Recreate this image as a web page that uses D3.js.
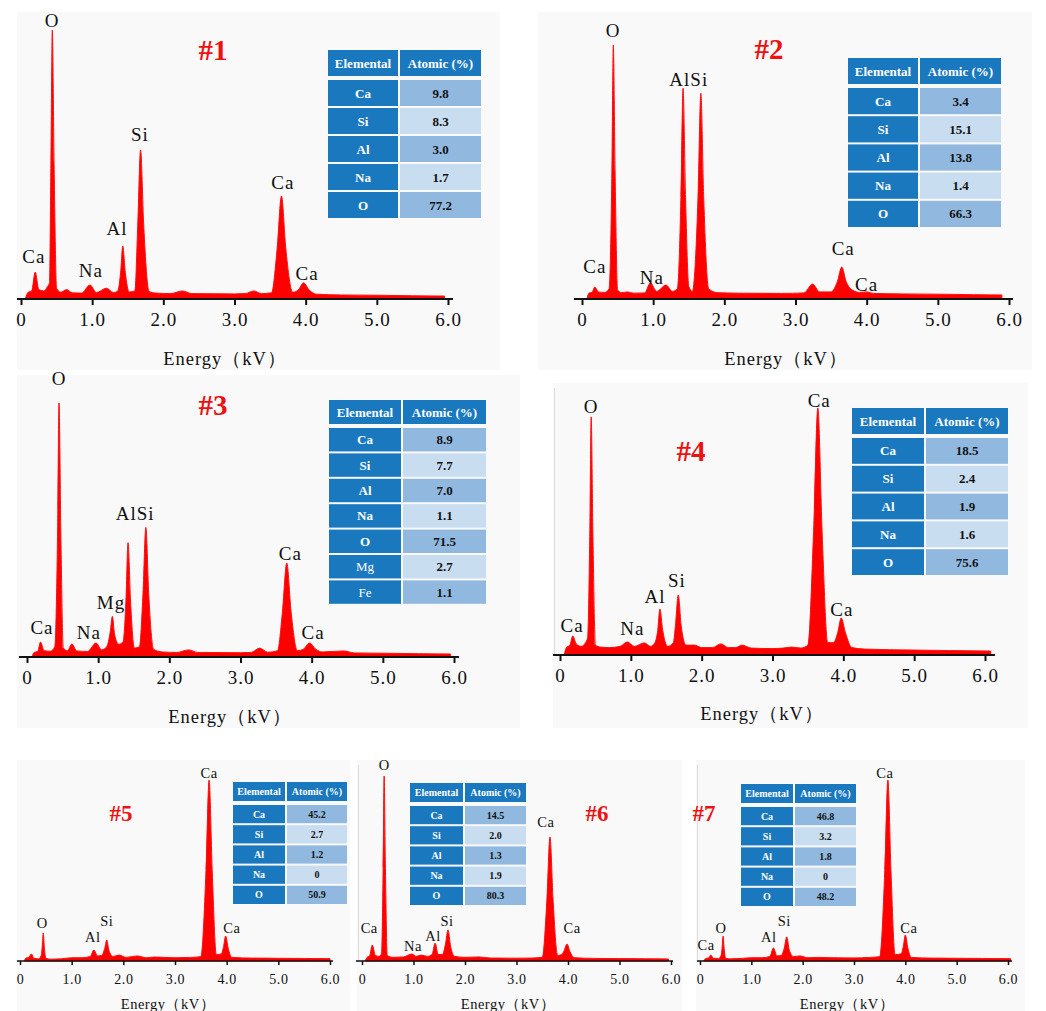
<!DOCTYPE html>
<html>
<head>
<meta charset="utf-8">
<script src="https://cdn.jsdelivr.net/npm/d3@7"></script>
<style>
body { margin: 0; background: #fff; }
svg { display: block; }
</style>
</head>
<body>
<div class="chart"></div>
<script>
// tick values shared by every spectrum (kV)
const kvTicks = [0, 1, 2, 3, 4, 5, 6];

// EDS spectra: [energy kV, counts, tallest peak = 100]
const spectrum1 = [[0.06,0],[0.1,2.5],[0.15,3],[0.2,10],[0.25,3.5],[0.32,3],[0.37,4.5],[0.4,6],[0.42,50],[0.44,100],[0.465,50],[0.5,4],[0.56,2.5],[0.64,3.5],[0.72,2.3],[0.85,2.2],[0.97,5.2],[1.06,2.4],[1.2,4],[1.3,2.4],[1.36,3],[1.4,10],[1.43,19.7],[1.465,10],[1.52,2.6],[1.6,3],[1.64,27],[1.68,55.4],[1.725,27],[1.8,2.8],[1.9,2.2],[2.1,2],[2.27,3],[2.4,2],[3.0,1.9],[3.15,2],[3.27,3],[3.38,2],[3.52,2.3],[3.6,19],[3.66,38.3],[3.72,19],[3.82,2.5],[3.9,3.5],[3.97,6],[4.05,3.3],[4.15,1.8],[4.5,1.5],[5.0,1.4],[5.5,1.2],[5.95,1.1]];
const spectrum2 = [[0.07,0],[0.1,2.4],[0.14,2.6],[0.18,4.7],[0.23,2.8],[0.32,2.6],[0.38,4],[0.42,50],[0.44,100],[0.465,50],[0.5,3.5],[0.56,2.5],[0.64,2.8],[0.72,2.3],[0.88,2.4],[0.96,6.3],[1.05,3],[1.18,5.5],[1.27,3],[1.34,4],[1.39,40],[1.42,83],[1.455,40],[1.5,5],[1.55,3],[1.63,40],[1.67,81],[1.71,40],[1.78,4],[1.9,2.5],[2.2,2.3],[2.8,2.2],[3.12,2.4],[3.24,5.9],[3.34,2.8],[3.5,2.8],[3.59,7],[3.65,12.6],[3.71,7],[3.8,3.5],[3.9,2.6],[4.0,2.8],[4.1,2.2],[4.5,2],[5.0,1.9],[5.5,1.7],[5.9,1.6]];
const spectrum3 = [[0.07,0],[0.1,1.8],[0.15,2.2],[0.19,5.9],[0.24,2.5],[0.33,2.3],[0.39,4],[0.43,50],[0.45,100],[0.475,50],[0.51,3.5],[0.57,2.5],[0.63,5.1],[0.7,2.4],[0.85,2.2],[0.97,5.5],[1.05,2.8],[1.12,4],[1.17,10],[1.2,16],[1.23,9],[1.29,5],[1.35,6],[1.39,22],[1.42,45],[1.455,22],[1.51,3.5],[1.58,4],[1.63,25],[1.67,51],[1.71,25],[1.78,3],[1.9,2],[2.1,1.8],[2.27,2.8],[2.4,1.8],[3.0,1.7],[3.15,1.8],[3.27,3.5],[3.38,1.9],[3.52,2.5],[3.59,18],[3.65,37],[3.71,18],[3.8,2.5],[3.88,3],[3.97,5.5],[4.06,3],[4.15,2],[4.45,2.4],[4.6,1.6],[5.0,1.5],[5.5,1.3],[5.95,1.2]];
const spectrum4 = [[0.06,0],[0.09,3],[0.14,4],[0.18,7.7],[0.23,4.5],[0.3,3.5],[0.36,5],[0.39,7],[0.42,48],[0.44,96.4],[0.465,48],[0.5,4],[0.57,3.2],[0.7,3],[0.85,3.5],[0.95,5.3],[1.05,3.5],[1.19,4.9],[1.28,3.5],[1.34,5],[1.38,10],[1.41,18.6],[1.45,10],[1.52,3.5],[1.6,5],[1.63,12],[1.67,24.3],[1.71,12],[1.78,4],[1.9,4],[2.0,3],[2.15,3],[2.27,4.5],[2.38,3],[2.48,3],[2.57,4],[2.7,2.8],[3.0,2.6],[3.15,2.8],[3.27,3.2],[3.4,2.8],[3.5,4],[3.58,50],[3.64,100],[3.7,50],[3.78,5],[3.86,5],[3.92,9],[3.97,15],[4.03,9],[4.12,3],[4.3,2.4],[5.0,2],[5.5,1.8],[6.08,1.6]];
const spectrum5 = [[0.08,0],[0.12,1.7],[0.17,2],[0.22,3.9],[0.27,1.5],[0.36,1.2],[0.41,3],[0.43,8],[0.45,15.5],[0.47,8],[0.5,1.5],[0.6,1],[0.8,1.2],[1.0,1.8],[1.2,1.8],[1.36,2.5],[1.43,6.1],[1.5,2.8],[1.58,3],[1.64,7],[1.68,11.6],[1.72,6],[1.8,2.5],[1.92,3.3],[2.05,2],[2.27,2.8],[2.45,1.8],[2.6,2.2],[3.0,1.8],[3.3,2],[3.5,2.4],[3.6,50],[3.66,100],[3.72,50],[3.8,3.5],[3.9,4],[3.94,8],[3.98,13.8],[4.03,7],[4.1,2],[4.5,1.6],[5.0,1.5],[5.5,1.4],[6.0,1.3]];
const spectrum6 = [[0.06,0],[0.1,2],[0.15,3],[0.2,8.6],[0.26,3],[0.33,2.5],[0.38,4],[0.41,50],[0.43,100],[0.455,50],[0.49,3],[0.6,2],[0.8,2.2],[0.97,3.8],[1.05,2.5],[1.15,3.2],[1.27,2.5],[1.36,3.5],[1.42,9.7],[1.48,3.5],[1.56,3.5],[1.62,9],[1.67,16.8],[1.72,8],[1.8,2.5],[2.0,2],[2.27,2.2],[2.5,1.6],[3.0,1.5],[3.3,1.6],[3.5,2],[3.59,33],[3.65,67],[3.71,33],[3.8,3],[3.88,3.5],[3.93,6],[3.98,9.2],[4.04,5],[4.12,1.8],[4.5,1.4],[5.0,1.3],[5.5,1.2],[5.95,1.1]];
const spectrum7 = [[0.07,0],[0.12,1.5],[0.17,1.7],[0.21,3.3],[0.26,1.5],[0.36,1.3],[0.41,3],[0.43,7],[0.45,13.8],[0.47,7],[0.5,1.5],[0.6,1.2],[0.8,1.4],[1.0,1.8],[1.2,1.8],[1.36,2.5],[1.43,7.2],[1.5,2.8],[1.58,3],[1.64,7],[1.69,13.3],[1.74,6],[1.82,2.5],[1.95,2.8],[2.1,1.8],[2.3,2],[2.6,1.8],[3.0,1.7],[3.3,2],[3.5,2.4],[3.6,50],[3.66,100],[3.72,50],[3.8,3.5],[3.92,4],[3.96,8],[4.0,14.4],[4.05,7],[4.12,2],[4.5,1.6],[5.0,1.5],[5.5,1.4],[6.05,1.3]];

// peak annotations: [element, energy kV, label level in counts]
const peaks1 = [["O",0.436,103.7],["Si",1.67,61.3],["Al",1.35,26.4],["Ca",3.68,43.5],["Ca",4.02,9.7],["Na",0.98,10.8],["Ca",0.18,16]];
const peaks2 = [["O",0.436,105.9],["AlSi",1.5,86.6],["Ca",3.67,20.1],["Ca",4.0,5.9],["Na",0.98,8.7],["Ca",0.18,13]];
const peaks3 = [["O",0.45,109.8],["AlSi",1.52,56.7],["Mg",1.18,21.7],["Na",0.87,9.8],["Ca",0.21,11.8],["Ca",3.7,40.9],["Ca",4.02,9.8]];
const peaks4 = [["O",0.44,100.8],["Ca",3.66,103.2],["Si",1.65,30.4],["Al",1.34,23.9],["Ca",3.98,18.6],["Na",1.02,10.9],["Ca",0.17,12.1]];
const peaks5 = [["Ca",3.66,103.9],["Ca",4.1,18.2],["Si",1.68,22.1],["Al",1.41,13.3],["O",0.43,21]];
const peaks6 = [["O",0.43,105.9],["Ca",3.57,75.1],["Ca",4.08,17.8],["Si",1.65,21.6],["Al",1.38,13.5],["Na",0.99,8.1],["Ca",0.14,17.8]];
const peaks7 = [["Ca",3.6,103.9],["Ca",4.07,18.2],["Si",1.64,22.1],["Al",1.34,13.3],["O",0.41,18.2],["Ca",0.12,8.8]];

// composition tables
const elements1 = ["Ca","Si","Al","Na","O"];
const atomic1 = [9.8, 8.3, 3.0, 1.7, 77.2];
const elements2 = ["Ca","Si","Al","Na","O"];
const atomic2 = [3.4, 15.1, 13.8, 1.4, 66.3];
const elements3 = ["Ca","Si","Al","Na","O","Mg","Fe"];
const atomic3 = [8.9, 7.7, 7.0, 1.1, 71.5, 2.7, 1.1];
const elements4 = ["Ca","Si","Al","Na","O"];
const atomic4 = [18.5, 2.4, 1.9, 1.6, 75.6];
const elements5 = ["Ca","Si","Al","Na","O"];
const atomic5 = [45.2, 2.7, 1.2, 0, 50.9];
const elements6 = ["Ca","Si","Al","Na","O"];
const atomic6 = [14.5, 2.0, 1.3, 1.9, 80.3];
const elements7 = ["Ca","Si","Al","Na","O"];
const atomic7 = [46.8, 3.2, 1.8, 0, 48.2];

const blue = "#1a78bf", cellDark = "#91b9df", cellLight = "#c9ddf0";
const serif = "'Liberation Serif', 'Times New Roman', serif";

// where each panel sits on the page
const panels = [
  {name:"#1", spec:spectrum1, peaks:peaks1, els:elements1, vals:atomic1, big:true, edge:false,
   bg:[17,12,483,358], x0:21, x1:448, axisY:299, topY:30, line:[17,453], num:[213,60], title:[225,365],
   table:{x:328, y:50, w:153, c1:71, hh:28, rh:28}},
  {name:"#2", spec:spectrum2, peaks:peaks2, els:elements2, vals:atomic2, big:true, edge:false,
   bg:[538,12,494,358], x0:582, x1:1009, axisY:299, topY:45, line:[574,1013], num:[769,59], title:[786,365],
   table:{x:848, y:58, w:153, c1:71, hh:28, rh:28.2}},
  {name:"#3", spec:spectrum3, peaks:peaks3, els:elements3, vals:atomic3, big:true, edge:false,
   bg:[17,375,503,353], x0:27, x1:454, axisY:657, topY:403, line:[19,459], num:[213,415], title:[230,723],
   table:{x:329, y:400, w:157, c1:73, hh:26, rh:25.4}},
  {name:"#4", spec:spectrum4, peaks:peaks4, els:elements4, vals:atomic4, big:true, edge:true,
   bg:[553,383,475,345], x0:560, x1:985, axisY:655, topY:408, line:[553,995], num:[691,461], title:[762,720],
   table:{x:852, y:408, w:156, c1:73, hh:28, rh:27.8}},
  {name:"#5", spec:spectrum5, peaks:peaks5, els:elements5, vals:atomic5, big:false, edge:false,
   bg:[17,760,333,251], x0:20, x1:330, axisY:961, topY:780, line:[17,333], num:[121,821], title:[168,1009],
   table:{x:233, y:782, w:114, c1:53, hh:21, rh:20.2}},
  {name:"#6", spec:spectrum6, peaks:peaks6, els:elements6, vals:atomic6, big:false, edge:true,
   bg:[357,760,325,251], x0:362, x1:671, axisY:961, topY:776, line:[356,673], num:[597,821], title:[508,1009],
   table:{x:410, y:783, w:116, c1:54, hh:21, rh:20.2}},
  {name:"#7", spec:spectrum7, peaks:peaks7, els:elements7, vals:atomic7, big:false, edge:true,
   bg:[696,760,329,251], x0:700, x1:1008, axisY:961, topY:780, line:[697,1012], num:[704,821], title:[847,1009],
   table:{x:741, y:784, w:115, c1:53, hh:21, rh:20.2}}
];

const svg = d3.select(".chart").append("svg")
  .attr("width", 1046)
  .attr("height", 1011);

panels.forEach(p => {
  const g = svg.append("g");
  const fsLabel = p.big ? 19 : 14.5,
        fsTick = p.big ? 19 : 14,
        fsTitle = p.big ? 18.5 : 14.5,
        fsNum = p.big ? 29 : 23,
        fsTable = p.big ? 13 : 10;

  g.append("rect")
    .attr("x", p.bg[0]).attr("y", p.bg[1])
    .attr("width", p.bg[2]).attr("height", p.bg[3])
    .attr("fill", "#f9f9f9");

  // faint left frame left over on some of the scanned panels
  if (p.edge) {
    g.append("line")
      .attr("x1", p.bg[0] + 1.5).attr("x2", p.bg[0] + 1.5)
      .attr("y1", p.bg[1] + 5).attr("y2", p.axisY)
      .attr("stroke", "#dcdcdc")
      .attr("stroke-width", 1);
  }

  const xScale = d3.scaleLinear().domain([0, 6]).range([p.x0, p.x1]);
  const yScale = d3.scaleLinear().domain([0, 100]).range([p.axisY, p.topY]);

  const area = d3.area()
    .x(d => xScale(d[0]))
    .y0(yScale(0))
    .y1(d => yScale(d[1]))
    .curve(d3.curveMonotoneX);

  g.append("path")
    .datum(p.spec)
    .attr("d", area)
    .attr("fill", "#ff0000")
    .attr("stroke", "#ff1010")
    .attr("stroke-width", 1);

  // axis
  const xAxis = d3.axisBottom(xScale)
    .tickValues(kvTicks)
    .tickFormat(d => d === 0 ? "0" : d3.format(".1f")(d))
    .tickSize(p.big ? 6 : 4)
    .tickPadding(p.big ? 8 : 9);

  const axisG = g.append("g")
    .attr("transform", `translate(0,${p.axisY})`)
    .call(xAxis);
  axisG.select(".domain").remove();
  axisG.selectAll(".tick line")
    .attr("stroke", "#111")
    .attr("stroke-width", p.big ? 2 : 1.5);
  axisG.selectAll(".tick text")
    .attr("fill", "#111")
    .attr("font-family", serif)
    .attr("font-size", fsTick)
    .attr("letter-spacing", p.big ? 1 : 0.6);

  g.append("line")
    .attr("x1", p.line[0]).attr("x2", p.line[1])
    .attr("y1", p.axisY).attr("y2", p.axisY)
    .attr("stroke", "#111")
    .attr("stroke-width", p.big ? 2.2 : 1.6);

  g.append("text")
    .text("Energy（kV）")
    .attr("x", p.title[0]).attr("y", p.title[1])
    .attr("text-anchor", "middle")
    .attr("font-family", serif)
    .attr("font-size", fsTitle)
    .attr("letter-spacing", p.big ? 1 : 0.5)
    .attr("fill", "#111");

  // peak labels
  g.selectAll(".peak")
    .data(p.peaks)
    .enter()
    .append("text")
    .attr("class", "peak")
    .text(d => d[0])
    .attr("x", d => xScale(d[1]))
    .attr("y", d => yScale(d[2]))
    .attr("dy", "0.35em")
    .attr("text-anchor", "middle")
    .attr("font-family", serif)
    .attr("font-size", fsLabel)
    .attr("letter-spacing", p.big ? 1 : 0.5)
    .attr("fill", "#111");

  g.append("text")
    .text(p.name)
    .attr("x", p.num[0]).attr("y", p.num[1])
    .attr("text-anchor", "middle")
    .attr("font-family", serif)
    .attr("font-weight", "bold")
    .attr("font-size", fsNum)
    .attr("fill", "#ee1111");

  // composition table
  const t = p.table;
  const rows = [["Elemental", "Atomic (%)"]]
    .concat(p.els.map((e, i) => [e, p.vals[i] === 0 ? "0" : p.vals[i].toFixed(1)]));
  const rowY = i => i === 0 ? t.y : t.y + t.hh + 2 + (i - 1) * t.rh;
  const rowH = i => i === 0 ? t.hh : t.rh;

  const rowG = g.selectAll(".row")
    .data(rows)
    .enter()
    .append("g")
    .attr("class", "row");

  rowG.append("rect")
    .attr("x", t.x)
    .attr("y", (d, i) => rowY(i))
    .attr("width", t.c1 - 1)
    .attr("height", (d, i) => rowH(i) - 2)
    .attr("fill", blue);

  rowG.append("rect")
    .attr("x", t.x + t.c1 + 1)
    .attr("y", (d, i) => rowY(i))
    .attr("width", t.w - t.c1 - 1)
    .attr("height", (d, i) => rowH(i) - 2)
    .attr("fill", (d, i) => i === 0 ? blue : (i % 2 ? cellDark : cellLight));

  rowG.append("text")
    .text(d => d[0])
    .attr("x", t.x + (t.c1 - 1) / 2)
    .attr("y", (d, i) => rowY(i) + (rowH(i) - 2) / 2)
    .attr("dy", "0.35em")
    .attr("text-anchor", "middle")
    .attr("font-family", serif)
    .attr("font-weight", d => (d[0] === "Mg" || d[0] === "Fe") ? "normal" : "bold")
    .attr("font-size", fsTable)
    .attr("fill", "#fff");

  rowG.append("text")
    .text(d => d[1])
    .attr("x", t.x + t.c1 + 1 + (t.w - t.c1 - 1) / 2)
    .attr("y", (d, i) => rowY(i) + (rowH(i) - 2) / 2)
    .attr("dy", "0.35em")
    .attr("text-anchor", "middle")
    .attr("font-family", serif)
    .attr("font-weight", "bold")
    .attr("font-size", fsTable)
    .attr("fill", (d, i) => i === 0 ? "#fff" : "#111");
});
</script>
</body>
</html>
